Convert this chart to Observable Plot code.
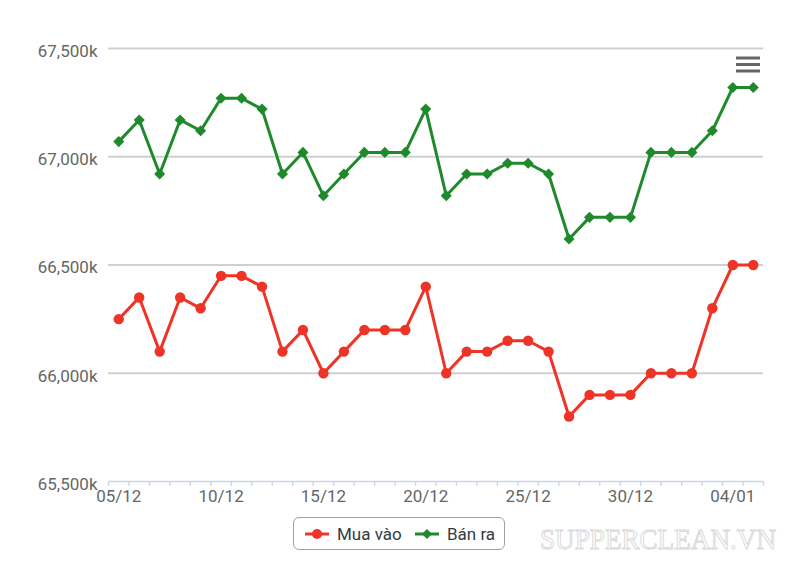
<!DOCTYPE html>
<html><head><meta charset="utf-8">
<script src="https://cdn.jsdelivr.net/npm/d3@7"></script>
<script src="https://cdn.jsdelivr.net/npm/@observablehq/plot@0.6"></script>
<style>
body{margin:0;background:#fff;font-family:Roboto,"Noto Sans",sans-serif}
#wrap{position:relative;width:800px;height:565px;overflow:hidden;background:#fff}
#legend{position:absolute;left:293px;top:517px;width:212px;height:33px;border:1px solid #a0a0a0;border-radius:6px;box-sizing:border-box;font-size:17px;color:#333a45}
.item{position:absolute;top:0;height:31px;display:flex;align-items:center}
.item span{margin-left:8px;white-space:nowrap}
#menu{position:absolute;left:735px;top:55px}
#wm{position:absolute;left:530px;top:513px}
</style></head><body><div id="wrap"></div>
<script>
// ---- data ----
const dates = ["2022-12-05","2022-12-06","2022-12-07","2022-12-08","2022-12-09","2022-12-10","2022-12-11","2022-12-12","2022-12-13","2022-12-14","2022-12-15","2022-12-16","2022-12-17","2022-12-18","2022-12-19","2022-12-20","2022-12-21","2022-12-22","2022-12-23","2022-12-24","2022-12-25","2022-12-26","2022-12-27","2022-12-28","2022-12-29","2022-12-30","2022-12-31","2023-01-01","2023-01-02","2023-01-03","2023-01-04","2023-01-05"];
const muaVao = [66250,66350,66100,66350,66300,66450,66450,66400,66100,66200,66000,66100,66200,66200,66200,66400,66000,66100,66100,66150,66150,66100,65800,65900,65900,65900,66000,66000,66000,66300,66500,66500];
const banRa  = [67070,67170,66920,67170,67120,67270,67270,67220,66920,67020,66820,66920,67020,67020,67020,67220,66820,66920,66920,66970,66970,66920,66620,66720,66720,66720,67020,67020,67020,67120,67320,67320];
const seriesNames = ["Mua vào","Bán ra"];
const seriesColors = ["#ee3427","#1f8a2b"];
const xLabelDates = ["2022-12-05","2022-12-10","2022-12-15","2022-12-20","2022-12-25","2022-12-30","2023-01-04"];
const yTicks = [65500,66000,66500,67000,67500];

// ---- build ----
const parse = d3.utcParse("%Y-%m-%d");
const X = dates.map(parse);
const rows = X.map((d,i)=>({date:d, mua:muaVao[i], ban:banRa[i]}));
const xDomain = [d3.utcHour.offset(X[0], -12), d3.utcHour.offset(X[X.length-1], 12)];
const minorTicks = [xDomain[0], ...X.map(d => d3.utcHour.offset(d, 12))];

const chart = Plot.plot({
  width: 800, height: 510,
  marginLeft: 108, marginRight: 37, marginTop: 48, marginBottom: 29,
  style: {fontFamily: "Roboto, 'Noto Sans', sans-serif", fontSize: "17px", color: "#666", background: "#fff"},
  x: {type: "utc", domain: xDomain, label: null},
  y: {domain: [65500, 67500], label: null},
  marks: [
    Plot.gridY(yTicks.slice(1), {stroke: "#d0d0d0", strokeOpacity: 1, strokeWidth: 1.8}),
    Plot.ruleY([yTicks[0]], {stroke: "#ccd6eb", strokeWidth: 1.6}),
    Plot.axisX(minorTicks, {tickSize: 5, stroke: "#ccd6eb", strokeWidth: 1.4, tickFormat: () => "", label: null}),
    Plot.axisX(xLabelDates.map(parse), {tickSize: 0, tickPadding: 8, tickFormat: d3.utcFormat("%d/%m"), fill: "#666", fontSize: 17, label: null}),
    Plot.axisY(yTicks, {tickSize: 0, tickPadding: 11, dy: 3, tickFormat: d => d3.format(",")(d) + "k", fill: "#666", fontSize: 17, label: null}),
    Plot.line(rows, {x: "date", y: "mua", stroke: seriesColors[0], strokeWidth: 3}),
    Plot.dot(rows, {x: "date", y: "mua", fill: seriesColors[0], r: 5.2, symbol: "circle"}),
    Plot.line(rows, {x: "date", y: "ban", stroke: seriesColors[1], strokeWidth: 3}),
    Plot.dot(rows, {x: "date", y: "ban", fill: seriesColors[1], r: 5, symbol: "diamond2"})
  ]
});
const wrap = document.getElementById("wrap");
wrap.appendChild(chart);

// legend
const legend = document.createElement("div");
legend.id = "legend";
const lefts = [11, 121];
seriesNames.forEach((name, i) => {
  const it = document.createElement("div");
  it.className = "item";
  it.style.left = lefts[i] + "px";
  const sym = i === 0
    ? `<circle cx="12" cy="6" r="5" fill="${seriesColors[i]}"/>`
    : `<path d="M12,1 L17,6 L12,11 L7,6 Z" fill="${seriesColors[i]}"/>`;
  it.innerHTML = `<svg width="24" height="12"><line x1="0" x2="24" y1="6" y2="6" stroke="${seriesColors[i]}" stroke-width="3"/>${sym}</svg><span>${name}</span>`;
  legend.appendChild(it);
});
wrap.appendChild(legend);

// menu icon
const menu = document.createElement("div");
menu.id = "menu";
menu.innerHTML = `<svg width="26" height="22"><g stroke="#666" stroke-width="3"><line x1="1" x2="25" y1="3" y2="3"/><line x1="1" x2="25" y1="9.5" y2="9.5"/><line x1="1" x2="25" y1="16" y2="16"/></g></svg>`;
wrap.appendChild(menu);

// watermark
const wm = document.createElement("div");
wm.id = "wm";
wm.innerHTML = `<svg width="265" height="50" style="overflow:visible"><text x="10" y="36" font-family="'Liberation Serif','DejaVu Serif',serif" font-size="30" textLength="236" lengthAdjust="spacingAndGlyphs" fill="#fff" stroke="#d8d8d8" stroke-width="1">SUPPERCLEAN.VN</text></svg>`;
wrap.appendChild(wm);
</script>
</body></html>
